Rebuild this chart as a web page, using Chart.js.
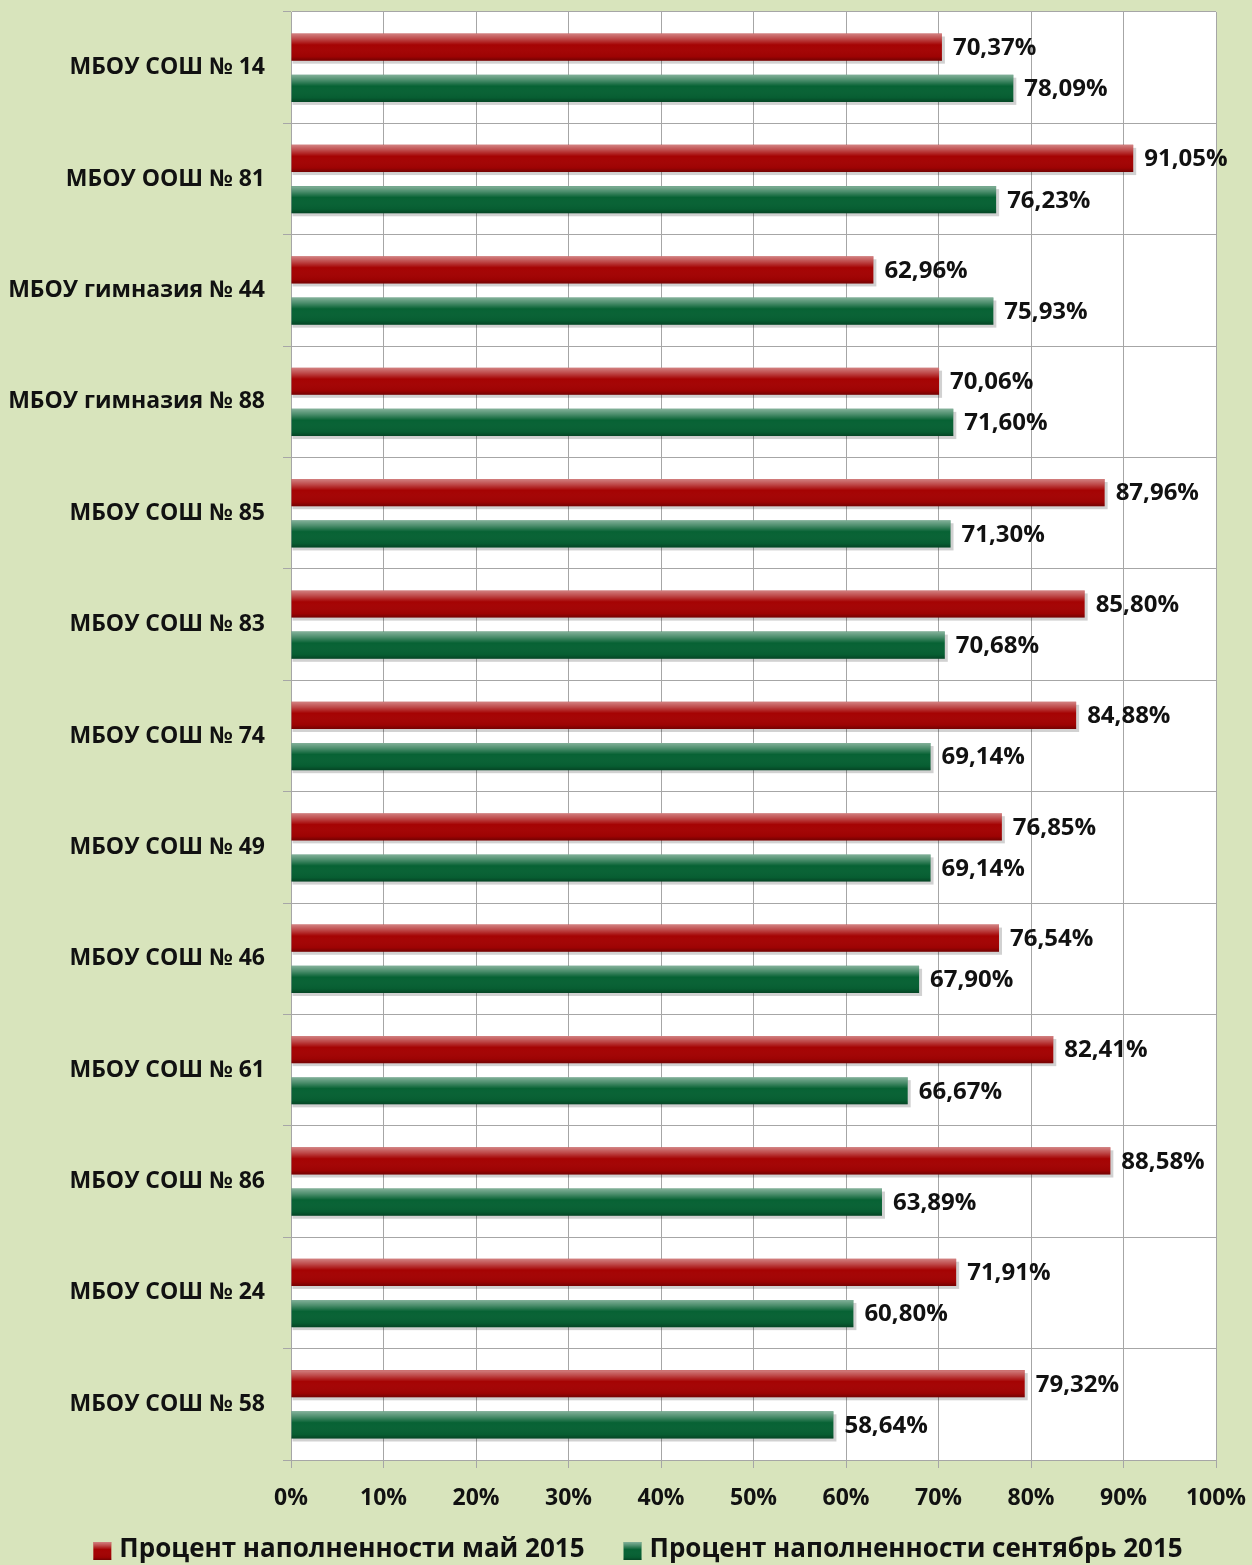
<!DOCTYPE html>
<html lang="ru">
<head>
<meta charset="UTF-8">
<title>Процент наполненности</title>
<script src="https://cdn.jsdelivr.net/npm/chart.js@4.4.0/dist/chart.umd.min.js"></script>
<style>
  html, body { margin: 0; padding: 0; background: #d8e4bc; }
  #wrap { width: 1252px; height: 1565px; }
</style>
</head>
<body>
<div id="wrap"><canvas id="myChart"></canvas></div>
<script>
// данные с картинки
const schools = [
  'МБОУ СОШ № 14', 'МБОУ ООШ № 81', 'МБОУ гимназия № 44', 'МБОУ гимназия № 88',
  'МБОУ СОШ № 85', 'МБОУ СОШ № 83', 'МБОУ СОШ № 74', 'МБОУ СОШ № 49',
  'МБОУ СОШ № 46', 'МБОУ СОШ № 61', 'МБОУ СОШ № 86', 'МБОУ СОШ № 24', 'МБОУ СОШ № 58'
];
const mayValues = [70.37, 91.05, 62.96, 70.06, 87.96, 85.80, 84.88, 76.85, 76.54, 82.41, 88.58, 71.91, 79.32];
const sepValues = [78.09, 76.23, 75.93, 71.60, 71.30, 70.68, 69.14, 69.14, 67.90, 66.67, 63.89, 60.80, 58.64];
const seriesNames = ['Процент наполненности май 2015', 'Процент наполненности сентябрь 2015'];
const xTicks = [0, 10, 20, 30, 40, 50, 60, 70, 80, 90, 100];

const FONT = '"Open Sans", "DejaVu Sans", sans-serif';

// фон картинки и белая область графика
const bgPlugin = {
  id: 'bg',
  beforeDraw(chart) {
    const { ctx, chartArea: a } = chart;
    ctx.save();
    ctx.fillStyle = '#d8e4bc';
    ctx.fillRect(0, 0, chart.width, chart.height);
    ctx.fillStyle = '#ffffff';
    ctx.fillRect(a.left, a.top, a.right - a.left, a.bottom - a.top);
    ctx.restore();
  }
};

// тень под столбиками
const shadowPlugin = {
  id: 'shadow',
  beforeDatasetsDraw(chart) {
    const ctx = chart.ctx;
    ctx.save();
    chart.data.datasets.forEach((ds, i) => {
      chart.getDatasetMeta(i).data.forEach(bar => {
        const top = bar.y - bar.height / 2;
        ctx.fillStyle = 'rgba(0,0,0,0.18)';
        ctx.fillRect(bar.base + 1, top + 3, bar.x - bar.base + 2, bar.height);
      });
    });
    ctx.restore();
  }
};

function shine(ctx, x, y, w, h) {
  const g = ctx.createLinearGradient(0, y, 0, y + h);
  g.addColorStop(0, 'rgba(255,255,255,0.5)');
  g.addColorStop(0.2, 'rgba(255,255,255,0.28)');
  g.addColorStop(0.42, 'rgba(255,255,255,0)');
  g.addColorStop(0.85, 'rgba(0,0,0,0.05)');
  g.addColorStop(1, 'rgba(0,0,0,0.3)');
  ctx.fillStyle = g;
  ctx.fillRect(x, y, w, h);
}

// объём столбиков и подписи значений
const barLook = {
  id: 'barLook',
  afterDatasetsDraw(chart) {
    const ctx = chart.ctx;
    ctx.save();
    chart.data.datasets.forEach((ds, i) => {
      chart.getDatasetMeta(i).data.forEach((bar, j) => {
        const top = bar.y - bar.height / 2;
        shine(ctx, bar.base, top, bar.x - bar.base, bar.height);

        ctx.fillStyle = '#111';
        ctx.font = 'bold 24px ' + FONT;
        ctx.textAlign = 'left';
        ctx.textBaseline = 'middle';
        const txt = ds.data[j].toFixed(2).replace('.', ',') + '%';
        ctx.fillText(txt, bar.x + 11, bar.y + 1);
      });
    });
    ctx.restore();
  }
};

// легенда внизу (свои отступы между элементами)
const legendBottom = {
  id: 'legendBottom',
  afterDraw(chart) {
    const ctx = chart.ctx;
    const boxW = 18, boxH = 18, gapText = 8, gapItem = 39;
    ctx.save();
    ctx.font = 'bold 26px ' + FONT;
    ctx.textBaseline = 'middle';
    ctx.textAlign = 'left';
    const items = chart.data.datasets.map(ds => ({ text: ds.label, color: ds.backgroundColor, w: ctx.measureText(ds.label).width }));
    let total = 0;
    items.forEach((it, i) => { total += boxW + gapText + it.w + (i ? gapItem : 0); });
    let x = (chart.width - total) / 2 + 12;
    const y = 1550;
    items.forEach(it => {
      ctx.fillStyle = it.color;
      ctx.fillRect(x, y - boxH / 2 + 1, boxW, boxH);
      shine(ctx, x, y - boxH / 2 + 1, boxW, boxH);
      x += boxW + gapText;
      ctx.fillStyle = '#111';
      ctx.fillText(it.text, x, y);
      x += it.w + gapItem;
    });
    ctx.restore();
  }
};

const data = {
  labels: schools,
  datasets: [
    { label: seriesNames[0], data: mayValues, backgroundColor: '#a50303', borderWidth: 0 },
    { label: seriesNames[1], data: sepValues, backgroundColor: '#076234', borderWidth: 0 }
  ]
};

const config = {
  type: 'bar',
  data: data,
  options: {
    indexAxis: 'y',
    responsive: false,
    animation: false,
    devicePixelRatio: 1,
    categoryPercentage: 0.74,
    barPercentage: 0.66,
    layout: { padding: { top: 12, right: 36, left: 0, bottom: 43 } },
    scales: {
      x: {
        min: 0, max: 100,
        afterBuildTicks(axis) { axis.ticks = xTicks.map(v => ({ value: v })); },
        afterFit(axis) { axis.height = 62; axis.paddingRight = 0; axis.paddingLeft = 0; },
        grid: { color: '#a6a6a6', lineWidth: 1, tickLength: 8, drawTicks: true },
        border: { color: '#a6a6a6' },
        ticks: {
          color: '#111', padding: 17,
          font: { family: FONT, weight: 'bold', size: 23 },
          callback: v => v + '%'
        }
      },
      y: {
        afterFit(axis) { axis.width = 291; axis.paddingTop = 0; axis.paddingBottom = 0; },
        grid: { color: '#a6a6a6', lineWidth: 1, offset: true, tickLength: 8 },
        border: { color: '#a6a6a6' },
        ticks: {
          color: '#111', padding: 18,
          font: { family: FONT, weight: 'bold', size: 23 }
        }
      }
    },
    plugins: {
      legend: { display: false },
      tooltip: { enabled: false }
    }
  },
  plugins: [bgPlugin, shadowPlugin, barLook, legendBottom]
};

const cv = document.getElementById('myChart');
cv.width = 1252; cv.height = 1565;
cv.style.width = '1252px'; cv.style.height = '1565px';
const myChart = new Chart(cv, config);
</script>
</body>
</html>
